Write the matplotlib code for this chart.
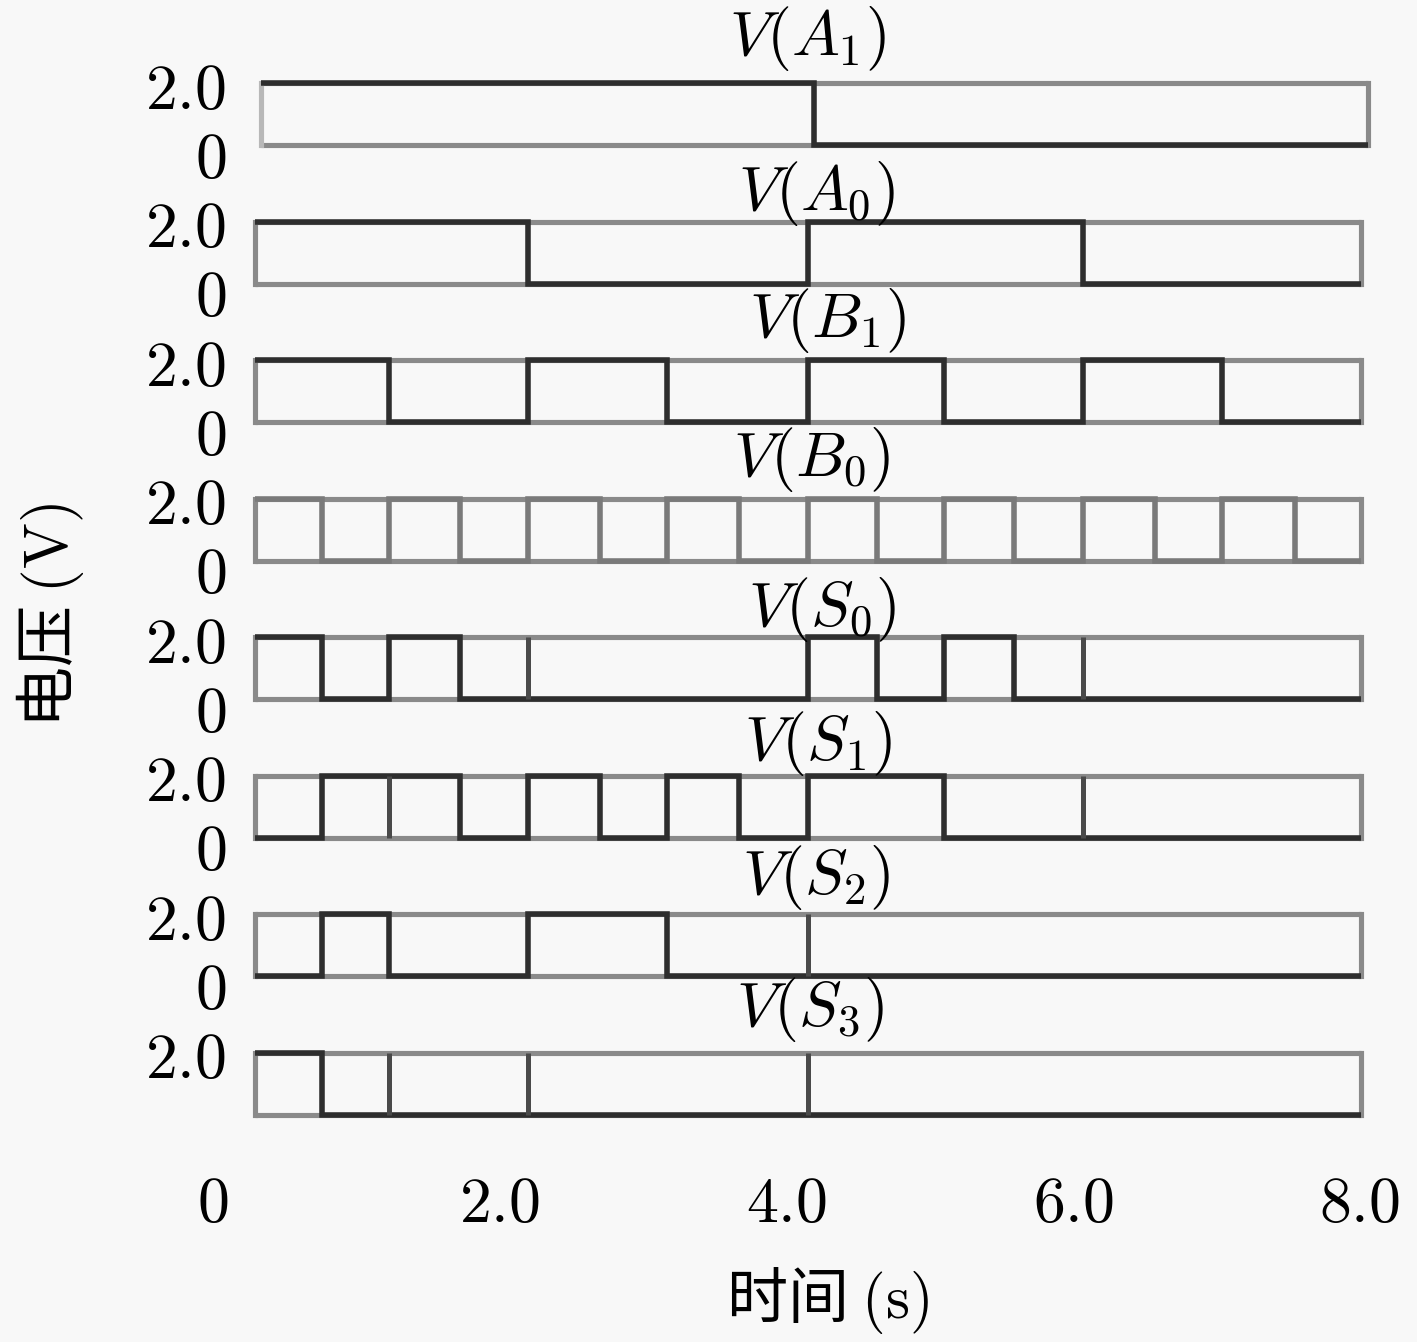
import matplotlib
matplotlib.use('Agg')
import matplotlib.pyplot as plt
import matplotlib.transforms as mtransforms
import numpy as np

plt.rcParams['mathtext.fontset'] = 'cm'
plt.rcParams['font.family'] = ['Noto Sans CJK SC', 'DejaVu Sans']

# ---------------- data ----------------
# time of each clock edge (s)
edges = [0.29, 0.76, 1.23, 1.72, 2.20, 2.70, 3.17, 3.67, 4.15,
         4.63, 5.10, 5.59, 6.07, 6.57, 7.04, 7.55, 8.01]
signal_names = ['A_1', 'A_0', 'B_1', 'B_0', 'S_0', 'S_1', 'S_2', 'S_3']
A1 = [1, 1, 1, 1, 1, 1, 1, 1, 0, 0, 0, 0, 0, 0, 0, 0]
A0 = [1, 1, 1, 1, 0, 0, 0, 0, 1, 1, 1, 1, 0, 0, 0, 0]
B1 = [1, 1, 0, 0, 1, 1, 0, 0, 1, 1, 0, 0, 1, 1, 0, 0]
B0 = [1, 0, 1, 0, 1, 0, 1, 0, 1, 0, 1, 0, 1, 0, 1, 0]
S0 = [1, 0, 1, 0, 0, 0, 0, 0, 1, 0, 1, 0, 0, 0, 0, 0]
S1 = [0, 1, 1, 0, 1, 0, 1, 0, 1, 1, 0, 0, 0, 0, 0, 0]
S2 = [0, 1, 0, 0, 1, 1, 0, 0, 0, 0, 0, 0, 0, 0, 0, 0]
S3 = [1, 0, 0, 0, 0, 0, 0, 0, 0, 0, 0, 0, 0, 0, 0, 0]
# edges (index into `edges`) that show a glitch line without a level change
glitches = [[], [], [], [], [4, 12], [2, 12], [8], [2, 4, 8]]
high_level = 2.0
y_tick_labels = ['0', '2.0']
x_ticks = [0, 2, 4, 6, 8]
x_tick_labels = ['0', '2.0', '4.0', '6.0', '8.0']

signals = [A1, A0, B1, B0, S0, S1, S2, S3]

# ---------------- layout / style ----------------
W, H = 1417, 1342
fig = plt.figure(figsize=(W / 100, H / 100), dpi=100)
fig.patch.set_facecolor('#f8f8f8')

x0_px, x8_px = 213, 1360          # pixel of t=0 and t=8
first_top, step, panel_h = 83, 138.5, 62
title_cx = [808, 817, 828, 812, 822, 818, 816, 810]
title_gap = [28, 12, 23, 23, 11, 15, 20, 26]
panel_dx = [0.045, 0, 0, 0, 0, 0, 0, 0]   # top trace is slightly shifted

frame_c = '#8a8a8a'
sig_c = '#2e2e2e'
glitch_c = '#4a4a4a'
lw_frame = 3.7
lw_sig = 4.0
num_fs = 46
title_fs = 46
label_fs = 44

for i, (name, vals) in enumerate(zip(signal_names, signals)):
    top = first_top + i * step
    bottom = top + panel_h
    ax = fig.add_axes([x0_px / W, 1 - bottom / H, (x8_px - x0_px) / W, panel_h / H])
    ax.set_xlim(0, 8)
    ax.set_ylim(0, high_level)
    ax.patch.set_alpha(0)
    for s in ax.spines.values():
        s.set_visible(False)

    e = np.array(edges) + panel_dx[i]
    # gray frame
    ax.plot([e[0], e[-1]], [0, 0], color=frame_c, lw=lw_frame, clip_on=False,
            solid_capstyle='butt', zorder=2)
    ax.plot([e[0], e[-1]], [high_level, high_level], color=frame_c, lw=lw_frame,
            clip_on=False, solid_capstyle='butt', zorder=2)
    ax.plot([e[0], e[0]], [0, high_level], color='#b8b8b8' if i == 0 else frame_c,
            lw=lw_frame, clip_on=False, zorder=2)
    ax.plot([e[-1], e[-1]], [0, high_level], color=frame_c, lw=lw_frame,
            clip_on=False, zorder=2)

    # signal trace
    color = '#7a7a7a' if name == 'B_0' else sig_c
    ax.stairs(np.array(vals) * high_level, e, baseline=None, color=color,
              lw=lw_sig, clip_on=False, zorder=3)
    # glitch lines
    if glitches[i]:
        ax.vlines(e[glitches[i]], 0, high_level, color=glitch_c, lw=lw_sig * 0.9,
                  clip_on=False, zorder=3)

    # y tick labels
    ax.tick_params(axis='both', length=0)
    if i < len(signal_names) - 1:
        ax.set_yticks([0, high_level], ['$' + t + '$' for t in y_tick_labels])
    else:
        ax.set_yticks([high_level], ['$' + y_tick_labels[1] + '$'])
    ax.tick_params(axis='y', pad=-9.4, labelsize=num_fs)
    for tk in ax.yaxis.get_major_ticks():
        if tk.get_loc() == 0:
            tk.label1.set_transform(tk.label1.get_transform() +
                                    mtransforms.ScaledTranslation(0, -7 / 100, fig.dpi_scale_trans))

    if i == len(signal_names) - 1:
        ax.set_xticks(x_ticks, ['$' + t + '$' for t in x_tick_labels])
        ax.tick_params(axis='x', pad=40, labelsize=num_fs)
    else:
        ax.set_xticks([])

    # title
    fig.text(title_cx[i] / W, 1 - (top - title_gap[i]) / H, r'$V(%s)$' % name,
             ha='center', va='baseline', fontsize=title_fs)

fig.text(828 / W, 1 - 1300 / H, r'时间 $(\mathrm{s})$', ha='center', va='center',
         fontsize=label_fs)
fig.text(50 / W, 1 - 615 / H, r'电压 $(\mathrm{V})$', ha='center', va='center',
         rotation=90, fontsize=label_fs)

fig.savefig('out.png', dpi=100, facecolor=fig.get_facecolor())
